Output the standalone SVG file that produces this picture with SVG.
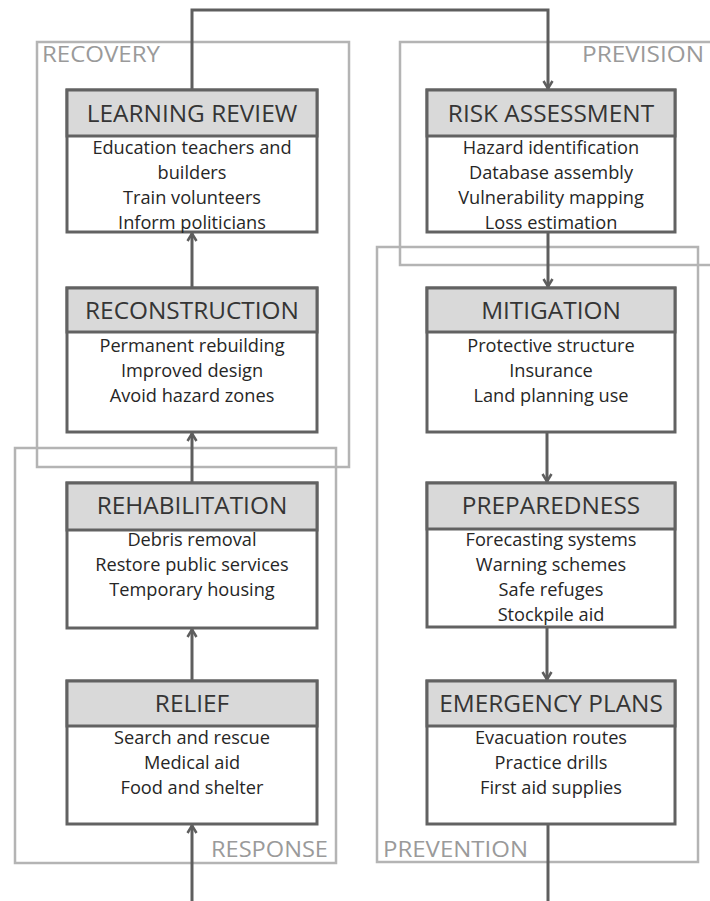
<svg xmlns="http://www.w3.org/2000/svg" width="710" height="901" viewBox="0 0 710 901">
  <style>
    .frame { fill: none; stroke: #b4b4b4; stroke-width: 2.5; }
    .frame-label { font-family: "Open Sans", "Liberation Sans", sans-serif; font-size: 22px; fill: #9a9a9a; }
    .box { fill: #ffffff; stroke: #626262; stroke-width: 3; }
    .head { fill: #d9d9d9; stroke: #626262; stroke-width: 3; }
    .title { font-family: "Open Sans", "Liberation Sans", sans-serif; font-size: 24.4px; fill: #353535; text-anchor: middle; }
    .item { font-family: "Open Sans", "Liberation Sans", sans-serif; font-size: 18.2px; fill: #262626; text-anchor: middle; }
    .link { fill: none; stroke: #5e5e5e; stroke-width: 3; }
  </style>
  <defs>
    <marker id="chevron" viewBox="0 0 12 12" refX="11" refY="6" markerWidth="12" markerHeight="12" markerUnits="userSpaceOnUse" orient="auto">
      <path d="M3,1.5 L10.5,6 L3,10.5" fill="none" stroke="#5e5e5e" stroke-width="2.5"/>
    </marker>
  </defs>

  <!-- phase frames -->
  <g id="frames">
    <rect class="frame" x="37" y="42" width="312" height="425"/>
    <rect class="frame" x="400" y="42" width="314" height="223"/>
    <rect class="frame" x="15" y="448" width="321" height="415"/>
    <rect class="frame" x="377" y="247" width="321" height="615"/>
    <text class="frame-label" x="42" y="62" textLength="118" lengthAdjust="spacingAndGlyphs">RECOVERY</text>
    <text class="frame-label" x="582" y="62" textLength="122" lengthAdjust="spacingAndGlyphs">PREVISION</text>
    <text class="frame-label" x="211" y="857" textLength="117" lengthAdjust="spacingAndGlyphs">RESPONSE</text>
    <text class="frame-label" x="383" y="857" textLength="145" lengthAdjust="spacingAndGlyphs">PREVENTION</text>
  </g>

  <!-- connectors -->
  <g id="connectors">
    <polyline class="link" points="192,90 192,10 548,10 548,89" marker-end="url(#chevron)"/>
    <line class="link" x1="548" y1="232" x2="548" y2="287" marker-end="url(#chevron)"/>
    <line class="link" x1="547" y1="432" x2="547" y2="482" marker-end="url(#chevron)"/>
    <line class="link" x1="547" y1="627" x2="547" y2="680" marker-end="url(#chevron)"/>
    <line class="link" x1="548" y1="824" x2="548" y2="901"/>
    <line class="link" x1="192" y1="901" x2="192" y2="825" marker-end="url(#chevron)"/>
    <line class="link" x1="192" y1="681" x2="192" y2="629" marker-end="url(#chevron)"/>
    <line class="link" x1="192" y1="483" x2="192" y2="433" marker-end="url(#chevron)"/>
    <line class="link" x1="192" y1="288" x2="192" y2="233" marker-end="url(#chevron)"/>
  </g>

  <g id="learning-review">
    <rect class="box" x="67" y="90" width="250" height="142"/>
    <rect class="head" x="67" y="90" width="250" height="46"/>
    <text class="title" x="192" y="122">LEARNING REVIEW</text>
    <text class="item" x="192" y="154">Education teachers and</text>
    <text class="item" x="192" y="179">builders</text>
    <text class="item" x="192" y="204">Train volunteers</text>
    <text class="item" x="192" y="229">Inform politicians</text>
  </g>

  <g id="reconstruction">
    <rect class="box" x="67" y="288" width="250" height="144"/>
    <rect class="head" x="67" y="288" width="250" height="44"/>
    <text class="title" x="192" y="319">RECONSTRUCTION</text>
    <text class="item" x="192" y="352">Permanent rebuilding</text>
    <text class="item" x="192" y="377">Improved design</text>
    <text class="item" x="192" y="402">Avoid hazard zones</text>
  </g>

  <g id="rehabilitation">
    <rect class="box" x="67" y="483" width="250" height="145"/>
    <rect class="head" x="67" y="483" width="250" height="47"/>
    <text class="title" x="192" y="514">REHABILITATION</text>
    <text class="item" x="192" y="546">Debris removal</text>
    <text class="item" x="192" y="571">Restore public services</text>
    <text class="item" x="192" y="596">Temporary housing</text>
  </g>

  <g id="relief">
    <rect class="box" x="67" y="681" width="250" height="143"/>
    <rect class="head" x="67" y="681" width="250" height="45"/>
    <text class="title" x="192" y="712">RELIEF</text>
    <text class="item" x="192" y="744">Search and rescue</text>
    <text class="item" x="192" y="769">Medical aid</text>
    <text class="item" x="192" y="794">Food and shelter</text>
  </g>

  <g id="risk-assessment">
    <rect class="box" x="427" y="90" width="248" height="142"/>
    <rect class="head" x="427" y="90" width="248" height="46"/>
    <text class="title" x="551" y="122">RISK ASSESSMENT</text>
    <text class="item" x="551" y="154">Hazard identification</text>
    <text class="item" x="551" y="179">Database assembly</text>
    <text class="item" x="551" y="204">Vulnerability mapping</text>
    <text class="item" x="551" y="229">Loss estimation</text>
  </g>

  <g id="mitigation">
    <rect class="box" x="427" y="288" width="248" height="144"/>
    <rect class="head" x="427" y="288" width="248" height="44"/>
    <text class="title" x="551" y="319">MITIGATION</text>
    <text class="item" x="551" y="352">Protective structure</text>
    <text class="item" x="551" y="377">Insurance</text>
    <text class="item" x="551" y="402">Land planning use</text>
  </g>

  <g id="preparedness">
    <rect class="box" x="427" y="483" width="248" height="144"/>
    <rect class="head" x="427" y="483" width="248" height="46"/>
    <text class="title" x="551" y="514">PREPAREDNESS</text>
    <text class="item" x="551" y="546">Forecasting systems</text>
    <text class="item" x="551" y="571">Warning schemes</text>
    <text class="item" x="551" y="596">Safe refuges</text>
    <text class="item" x="551" y="621">Stockpile aid</text>
  </g>

  <g id="emergency-plans">
    <rect class="box" x="427" y="681" width="248" height="143"/>
    <rect class="head" x="427" y="681" width="248" height="45"/>
    <text class="title" x="551" y="712">EMERGENCY PLANS</text>
    <text class="item" x="551" y="744">Evacuation routes</text>
    <text class="item" x="551" y="769">Practice drills</text>
    <text class="item" x="551" y="794">First aid supplies</text>
  </g>
</svg>
